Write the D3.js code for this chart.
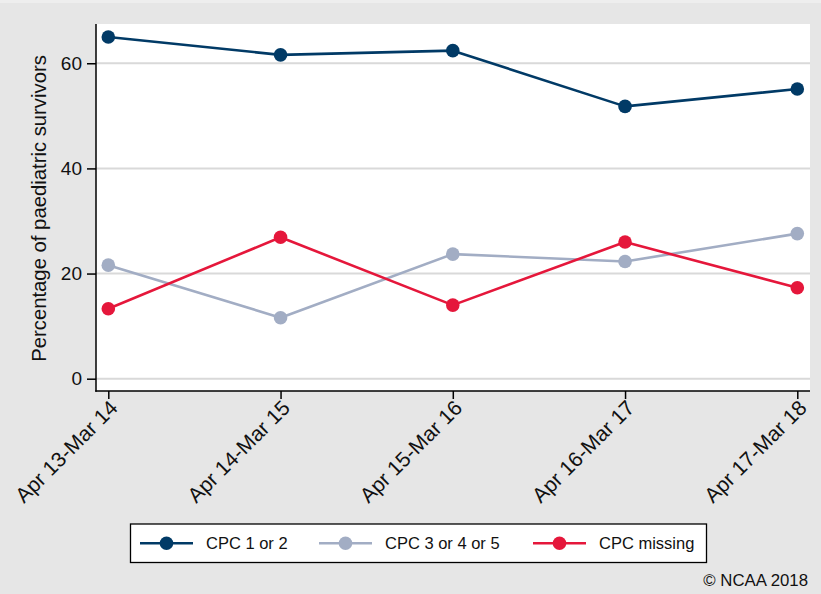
<!DOCTYPE html>
<html>
<head>
<meta charset="utf-8">
<script src="https://cdn.jsdelivr.net/npm/d3@7"></script>
<style>
  html, body { margin: 0; padding: 0; background: #e6e6e6; }
  svg { display: block; font-family: "Liberation Sans", Arial, Helvetica, sans-serif; }
</style>
</head>
<body>
<svg id="chart" width="821" height="594"></svg>
<script>
const categories = ["Apr 13-Mar 14", "Apr 14-Mar 15", "Apr 15-Mar 16", "Apr 16-Mar 17", "Apr 17-Mar 18"];
const cpc12 = [65.0, 61.6, 62.4, 51.8, 55.1];
const cpc345 = [21.6, 11.6, 23.7, 22.3, 27.6];
const cpcMissing = [13.3, 26.9, 14.0, 26.0, 17.3];
const yTicks = [0, 20, 40, 60];
const seriesNames = ["CPC 1 or 2", "CPC 3 or 4 or 5", "CPC missing"];
const seriesColors = ["#013a66", "#a2adc4", "#e5173b"];

const series = [cpc12, cpc345, cpcMissing].map((vals, i) => ({
  name: seriesNames[i], color: seriesColors[i], values: vals
}));

const W = 821, H = 594;
const plot = { left: 96, right: 810, top: 24, bottom: 391 };

const svg = d3.select("#chart");
svg.append("rect").attr("x", 0).attr("y", 0).attr("width", W).attr("height", H).attr("fill", "#e6e6e6");
svg.append("rect").attr("x", 0).attr("y", 0).attr("width", W).attr("height", 3).attr("fill", "#eeeeee");

svg.append("rect")
  .attr("x", plot.left).attr("y", plot.top)
  .attr("width", plot.right - plot.left).attr("height", plot.bottom - plot.top)
  .attr("fill", "#ffffff");

const x = d3.scalePoint().domain(categories).range([108.3, 797.3]);
const y = d3.scaleLinear().domain([-2.34, 67.47]).range([plot.bottom, plot.top]);

// gridlines
svg.append("g").selectAll("line").data(yTicks).join("line")
  .attr("x1", plot.left).attr("x2", plot.right)
  .attr("y1", d => y(d)).attr("y2", d => y(d))
  .attr("stroke", "#d9d9d9").attr("stroke-width", 2);

// y axis
const yAxis = d3.axisLeft(y).tickValues(yTicks).tickSize(9).tickPadding(5);
const gy = svg.append("g").attr("transform", `translate(${plot.left},0)`).call(yAxis);
gy.select(".domain").remove();
gy.append("line").attr("x1", 0).attr("x2", 0).attr("y1", plot.top).attr("y2", plot.bottom + 0.75)
  .attr("stroke", "#000").attr("stroke-width", 1.5);
gy.selectAll(".tick line").attr("stroke", "#000").attr("stroke-width", 1.5);
gy.selectAll(".tick text").attr("font-size", "19px").attr("fill", "#111")
  .attr("font-family", "'Liberation Sans', Arial, sans-serif");

// x axis
const xAxis = d3.axisBottom(x).tickSize(8).tickPadding(4);
const gx = svg.append("g").attr("transform", `translate(0,${plot.bottom})`).call(xAxis);
gx.select(".domain").remove();
gx.append("line").attr("x1", plot.left - 0.75).attr("x2", plot.right).attr("y1", 0).attr("y2", 0)
  .attr("stroke", "#000").attr("stroke-width", 1.5);
gx.selectAll(".tick line").attr("stroke", "#000").attr("stroke-width", 1.5);
gx.selectAll(".tick text")
  .attr("font-size", "21px").attr("fill", "#111")
  .attr("font-family", "'Liberation Sans', Arial, sans-serif")
  .attr("text-anchor", "end")
  .attr("transform", "translate(5,13) rotate(-45)")
  .attr("y", 0).attr("x", 0).attr("dy", "0.35em");

// y title
svg.append("text")
  .attr("transform", `translate(46,${(plot.top + plot.bottom) / 2 + 1}) rotate(-90)`)
  .attr("text-anchor", "middle")
  .attr("font-size", "20.3px").attr("fill", "#111")
  .text("Percentage of paediatric survivors");

// lines and markers
const line = d3.line().x((d, i) => x(categories[i])).y(d => y(d));
series.forEach(s => {
  svg.append("path").datum(s.values)
    .attr("d", line).attr("fill", "none")
    .attr("stroke", s.color).attr("stroke-width", 2.6).attr("stroke-linejoin", "round");
});
series.forEach(s => {
  svg.append("g").selectAll("circle").data(s.values).join("circle")
    .attr("cx", (d, i) => x(categories[i])).attr("cy", d => y(d))
    .attr("r", 6.8).attr("fill", s.color);
});

// legend
const lg = svg.append("g");
lg.append("rect").attr("x", 130.5).attr("y", 524).attr("width", 576).attr("height", 38.5)
  .attr("fill", "#ffffff").attr("stroke", "#000").attr("stroke-width", 1.3);
const legendX = [140, 319, 533];
const ly = 543.3;
series.forEach((s, i) => {
  const g = lg.append("g").attr("transform", `translate(${legendX[i]},${ly})`);
  g.append("line").attr("x1", 0).attr("x2", 53).attr("y1", 0).attr("y2", 0)
    .attr("stroke", s.color).attr("stroke-width", 2.6);
  g.append("circle").attr("cx", 26.5).attr("cy", 0).attr("r", 6.8).attr("fill", s.color);
  g.append("text").attr("x", 66).attr("y", 0).attr("dy", "0.36em")
    .attr("font-size", "16.5px").attr("fill", "#111").text(s.name);
});

// credit
svg.append("text").attr("x", 808).attr("y", 586).attr("text-anchor", "end")
  .attr("font-size", "16.8px").attr("fill", "#111").text("© NCAA 2018");
</script>
</body>
</html>
